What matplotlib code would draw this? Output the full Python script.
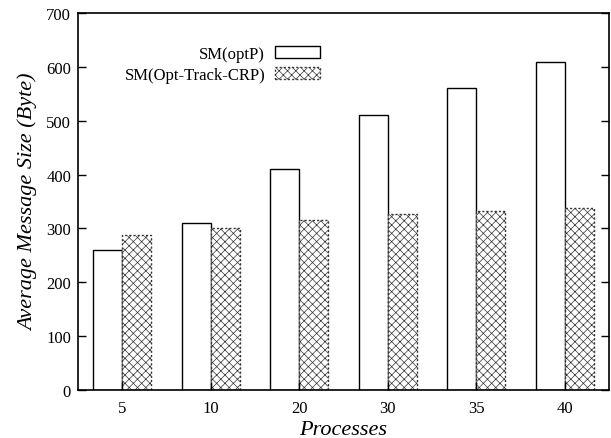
import matplotlib
matplotlib.use("Agg")
import matplotlib.pyplot as plt
import numpy as np

processes = ["5", "10", "20", "30", "35", "40"]
optp = [260, 310, 410, 510, 560, 610]
opt_track_crp = [287, 300, 315, 327, 333, 338]

plt.rcParams["font.family"] = ["Liberation Serif", "DejaVu Serif"]
plt.rcParams["hatch.linewidth"] = 0.5

fig = plt.figure(figsize=(6.11, 4.39), dpi=100)
ax = fig.add_axes([0.1277, 0.1093, 0.8690, 0.8587])

x = np.arange(len(processes))
w = 0.33
ax.bar(x - w / 2, optp, width=w, facecolor="white", edgecolor="black",
       linewidth=1.0, label="SM(optP)")
ax.bar(x + w / 2, opt_track_crp, width=w, facecolor="white", edgecolor="#333333",
       linewidth=1.0, linestyle=(0, (1.5, 1.5)), hatch="xxxx",
       label="SM(Opt-Track-CRP)")

ax.set_xlim(-0.5, len(processes) - 0.5)
ax.set_ylim(0, 700)
ax.set_yticks(range(0, 701, 100))
ax.set_xticks(x, labels=processes)
ax.tick_params(axis="both", direction="in", length=6, width=1.0,
               labelsize=12, right=True, pad=5)
ax.tick_params(axis="x", top=False, pad=7)
for s in ax.spines.values():
    s.set_linewidth(1.2)

ax.set_xlabel("Processes", fontsize=16, style="italic", labelpad=3)
ax.set_ylabel("Average Message Size (Byte)", fontsize=16, style="italic", labelpad=6)

ax.legend(loc="upper right", bbox_to_anchor=(0.456, 0.912), frameon=False,
          markerfirst=False, fontsize=12, handlelength=2.7, handleheight=0.72,
          labelspacing=0.3, handletextpad=0.6, borderpad=0, borderaxespad=0)

fig.savefig("out.png", dpi=100)
